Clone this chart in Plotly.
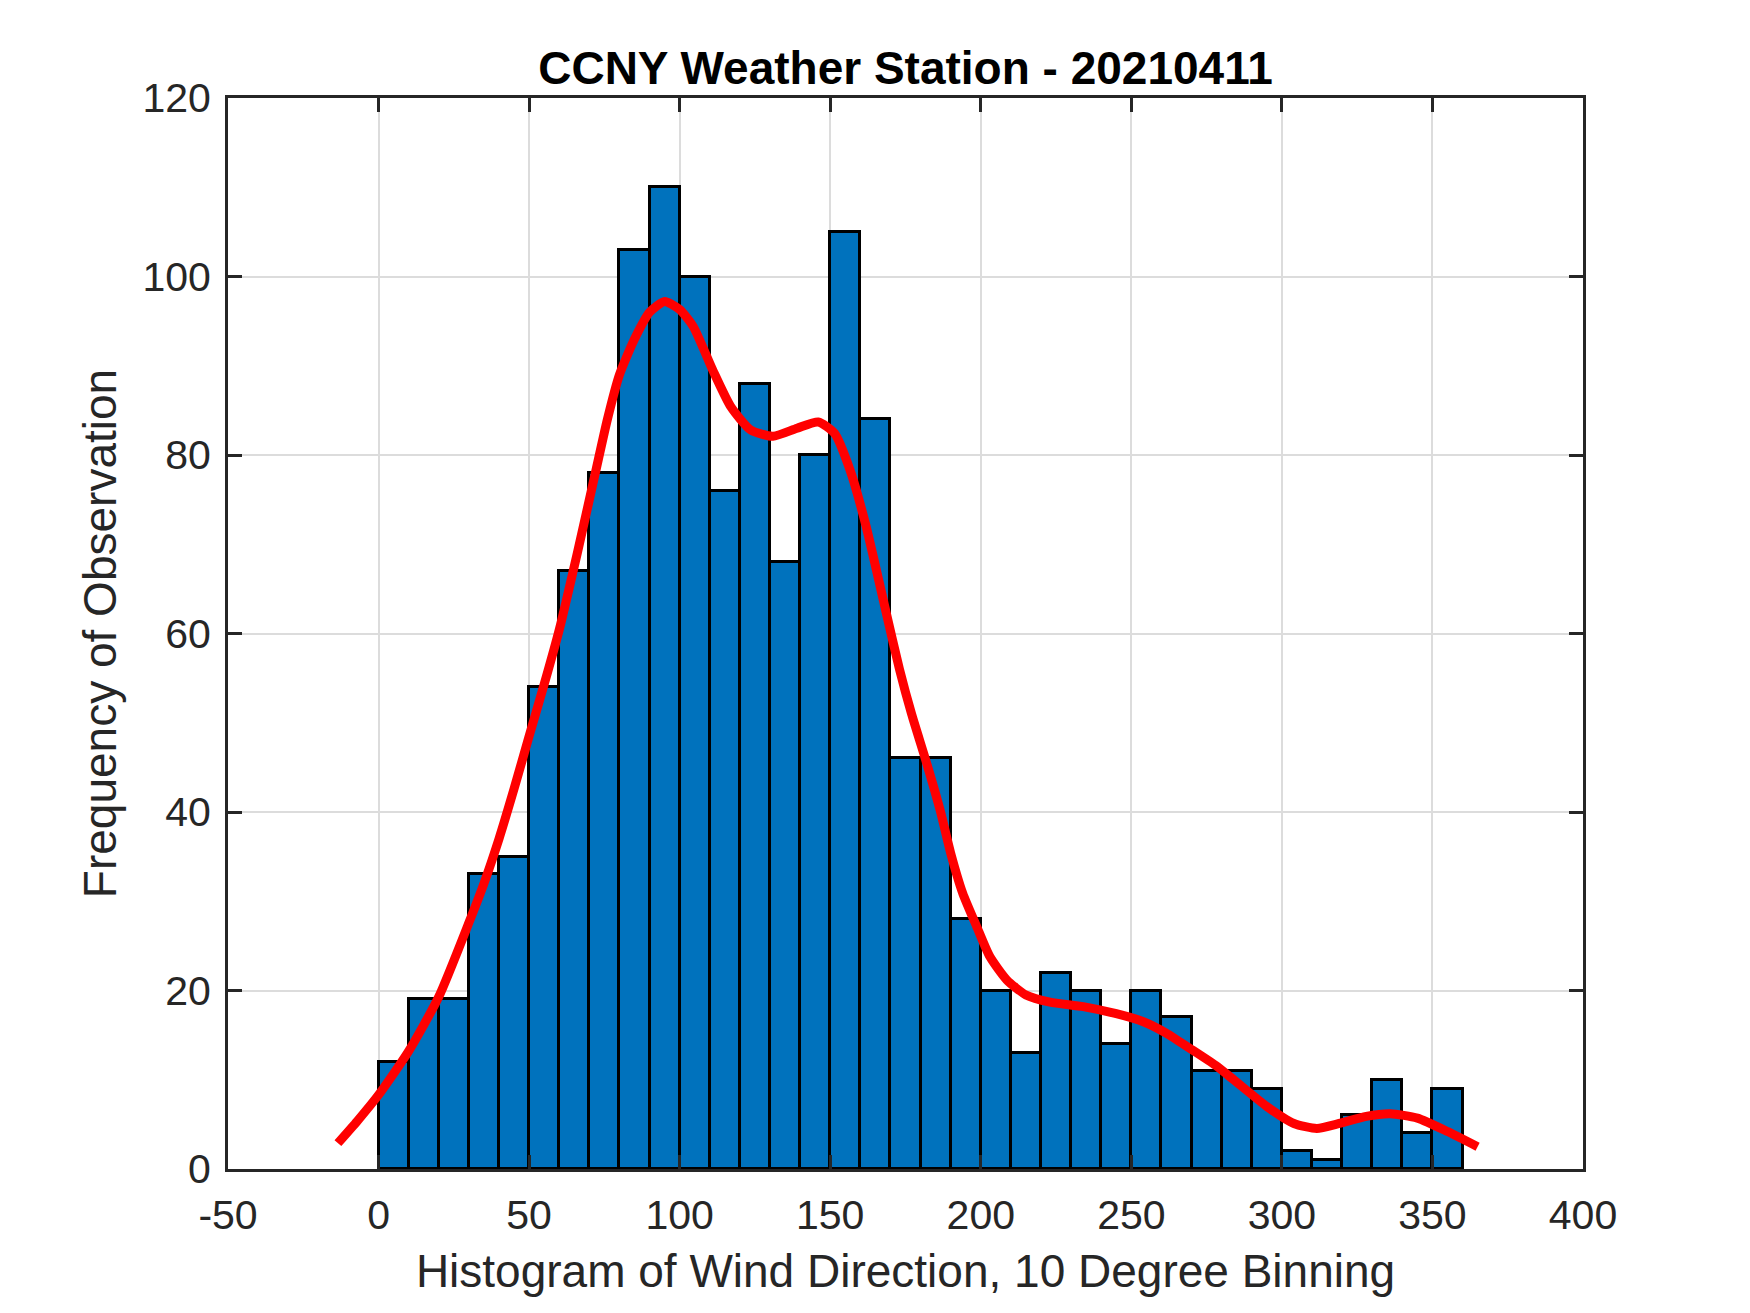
import plotly.graph_objects as go

# ---- data ----
bin_edges_left = list(range(0, 360, 10))  # 0,10,...,350
bin_width = 10
counts = [12, 19, 19, 33, 35, 54, 67, 78, 103, 110,
          100, 76, 88, 68, 80, 105, 84, 46, 46, 28,
          20, 13, 22, 20, 14, 20, 17, 11, 11, 9,
          2, 1, 6, 10, 4, 9]

curve_x = [-13.5, -7, 0, 10, 20, 30, 35, 40, 45, 50, 55, 60, 66, 72, 76, 80, 85, 90, 95,
           100, 104.5, 111, 117, 123.6, 131, 139, 146, 151.5, 156.6, 161.7, 168,
           173, 177, 182, 186.5, 190, 194, 198.6, 203, 208.6, 215, 223, 234, 245,
           254, 261.7, 269.5, 278, 284, 295, 304, 311.6, 319, 328, 336, 345, 355, 365]
curve_y = [2.9, 5.4, 8.3, 13.2, 19.3, 27.6, 32.0, 37.0, 42.6, 48.5, 54.3, 60.4, 69, 78.0, 84.0,
           89.0, 93.0, 96, 97.2, 96.3, 94.4, 89.5, 85.4, 82.8, 82.1, 83, 83.7, 82.4, 78.3,
           72.3, 63.2, 56, 51, 45.5, 40.2, 35.4, 30.9, 27.2, 23.8, 21.2, 19.5, 18.7,
           18.2, 17.4, 16.5, 15.2, 13.5, 11.6, 10.0, 7.0, 5.1, 4.55, 5.1, 5.9, 6.2,
           5.7, 4.2, 2.5]

x_ticks = [-50, 0, 50, 100, 150, 200, 250, 300, 350, 400]
y_ticks = [0, 20, 40, 60, 80, 100, 120]

title_text = "CCNY Weather Station - 20210411"
x_label = "Histogram of Wind Direction, 10 Degree Binning"
y_label = "Frequency of Observation"

# ---- figure ----
centers = [e + bin_width / 2 for e in bin_edges_left]

fig = go.Figure()
fig.add_trace(go.Bar(
    x=centers, y=counts, width=bin_width,
    marker=dict(color="#0072BD", line=dict(color="black", width=3)),
    showlegend=False, hoverinfo="skip",
))
fig.add_trace(go.Scatter(
    x=curve_x, y=curve_y, mode="lines",
    line=dict(color="#FF0000", width=9, shape="spline", smoothing=0.6),
    showlegend=False, hoverinfo="skip",
))

font_family = "Liberation Sans, Arial, sans-serif"
axis_common = dict(
    showline=True, linecolor="#262626", linewidth=3, mirror="ticks",
    ticks="inside", ticklen=14, tickwidth=3, tickcolor="#262626",
    showgrid=True, gridcolor="#dcdcdc", gridwidth=2,
    zeroline=False,
    tickfont=dict(family=font_family, size=41, color="#262626"),
)

# page body has an 8px default margin; compensate so the plot area lands
# at the reference position inside the 1750x1313 window
W, H = 1742, 1305
fig.update_layout(
    width=W, height=H,
    margin=dict(l=220, r=167, t=90, b=144),
    paper_bgcolor="white", plot_bgcolor="white",
    bargap=0,
    title=dict(
        text="<b>" + title_text + "</b>",
        x=0.5, xref="paper", xanchor="center",
        y=1 - 76 / H, yref="container", yanchor="bottom",
        font=dict(family=font_family, size=46, color="black"),
    ),
    xaxis=dict(
        range=[-50, 400], tickvals=x_ticks, ticktext=[str(v) for v in x_ticks],
        title=dict(text=x_label, standoff=18,
                   font=dict(family=font_family, size=46, color="#262626")),
        ticklabelstandoff=8,
        **axis_common,
    ),
    yaxis=dict(
        range=[0, 120], tickvals=y_ticks, ticktext=[str(v) for v in y_ticks],
        title=dict(text=y_label, standoff=12,
                   font=dict(family=font_family, size=46, color="#262626")),
        ticklabelstandoff=6,
        **axis_common,
    ),
)

fig.write_html("out.html")
